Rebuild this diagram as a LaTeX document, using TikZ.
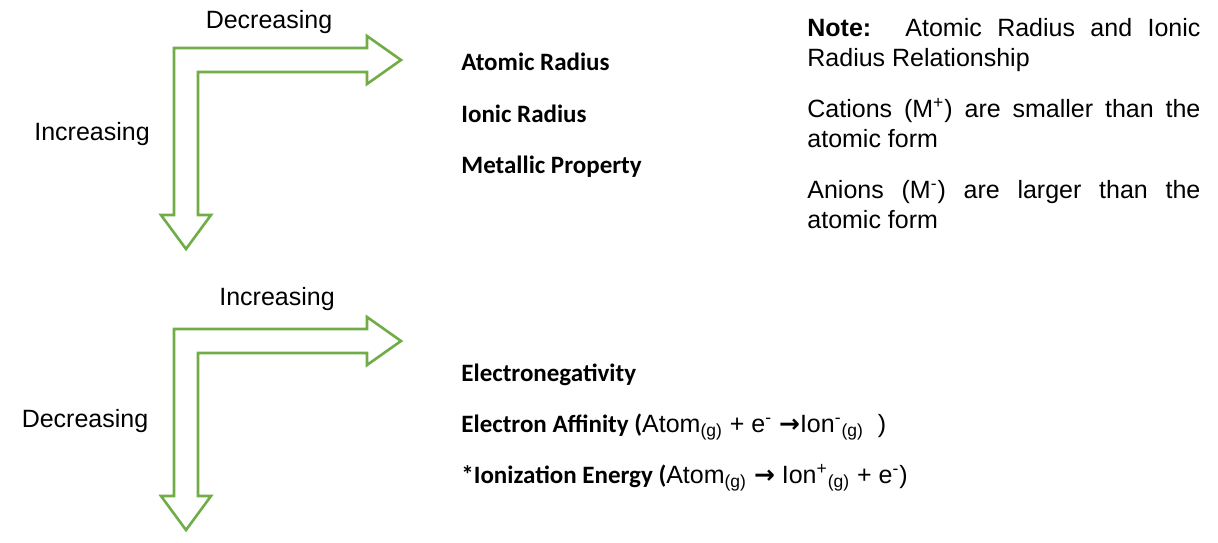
\documentclass[tikz,border=0pt]{standalone}
\usepackage{fontspec}
\setmainfont{Liberation Sans}
\newfontfamily\calibri{Carlito}
\newfontfamily\arrowfont{DejaVu Sans}
\usepackage{tikz}
\usetikzlibrary{positioning}

\definecolor{arrowgreen}{RGB}{112,173,71}
\newcommand{\yields}{{\arrowfont\bfseries →}}
\hyphenpenalty=10000
\tolerance=9999

\begin{document}
\begin{tikzpicture}[
    x=0.5pt, y=-0.5pt,
    every node/.style={inner sep=0pt, font=\fontsize{12.5}{15}\selectfont},
    trend/.style={anchor=base},
    prop/.style={anchor=base west, font=\fontsize{12.5}{15}\selectfont\calibri\bfseries},
    arrowline/.style={draw=arrowgreen, line width=1.3pt, line join=miter},
    bentarrow/.pic={
        \draw[arrowline] (174,215) -- (161,215) -- (186,249) -- (211,215) -- (198,215)
            -- (198,72) -- (367,72) -- (367,84) -- (401,60) -- (367,36) -- (367,48)
            -- (174,48) -- cycle;
    }
]
\useasboundingbox (0,0) rectangle (1218,542);

% upper group
\pic at (0,0) {bentarrow};
\node[trend] (dec1) at (269,28) {Decreasing};
\node[trend] (inc1) at (92,140) {Increasing};
\node[prop] (atomic) at (461,70) {Atomic Radius};
\node[prop] (ionic) at (461,122) {Ionic Radius};
\node[prop] (metallic) at (461,173) {Metallic Property};

% note on the right
\node[anchor=base west, text width=196.5pt, align=justify] (note) at (807,36)
    {\textbf{Note:}\hspace{4pt} Atomic Radius and Ionic Radius Relationship\par\vspace{10.5pt}
     Cations (M\textsuperscript{+}) are smaller than the atomic form\par\vspace{10.5pt}
     Anions (M\textsuperscript{-}) are larger than the atomic form};

% lower group
\pic at (0,281) {bentarrow};
\node[trend] (inc2) at (277,305) {Increasing};
\node[trend] (dec2) at (85,427) {Decreasing};
\node[prop] (electroneg) at (461,381) {Electronegativity};
\node[prop] (affinity) at (461,432) {Electron Affinity ({\rmfamily\mdseries Atom\textsubscript{(g)} + e\textsuperscript{-} \yields Ion\textsuperscript{-}\textsubscript{(g)}~ )}};
\node[prop] (ionization) at (461,483) {*Ionization Energy ({\rmfamily\mdseries Atom\textsubscript{(g)} \yields{} Ion\textsuperscript{+}\textsubscript{(g)} + e\textsuperscript{-})}};
\end{tikzpicture}
\end{document}
